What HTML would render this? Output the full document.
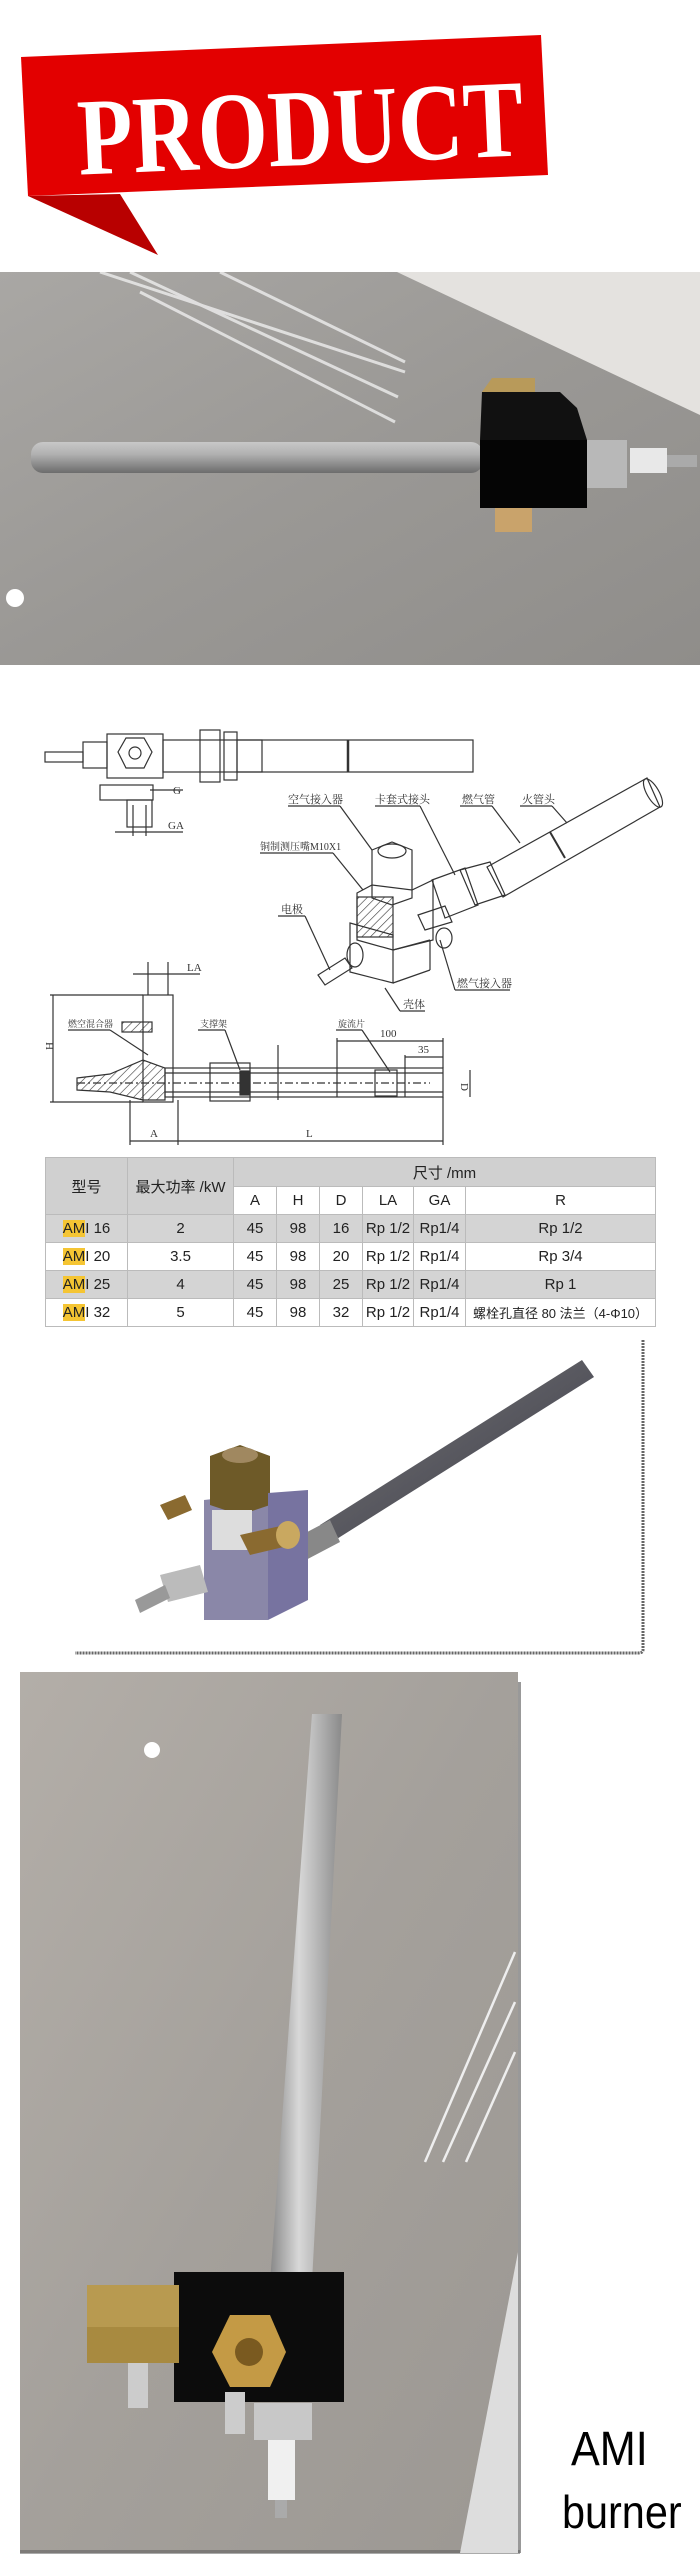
<!DOCTYPE html>
<html><head><meta charset="utf-8"><style>
html,body{margin:0;padding:0;background:#fff;}
body{width:700px;height:2566px;position:relative;overflow:hidden;font-family:"Liberation Sans","Noto Sans CJK SC",sans-serif;}
.abs{position:absolute;}
table{border-collapse:collapse;position:absolute;left:45px;top:1157px;width:611px;font-size:15px;color:#222;}
td{border:1px solid #bbb;text-align:center;padding:0;height:27px;}
.g td{background:#d4d4d4;}
.h td{background:#d0d0d0;}
.y{background:#f5c533;}
</style></head><body>

<svg class="abs" style="left:0;top:0" width="700" height="270">
<polygon points="28,196 120,194 158,255" fill="#b80000"/>
<polygon points="21,57 541,35 548,175 28,196" fill="#e30000"/>
<text x="300" y="165" text-anchor="middle" font-family="Liberation Serif,serif" font-weight="bold" font-size="110" fill="#fff" transform="rotate(-2.5 300 120) translate(54 0) scale(0.82 1)">PRODUCT</text>
</svg>

<svg class="abs" style="left:0;top:272px" width="700" height="393">
<defs><linearGradient id="mar" x1="0" y1="0" x2="1" y2="1"><stop offset="0" stop-color="#a9a7a4"/><stop offset="0.5" stop-color="#9a9895"/><stop offset="1" stop-color="#8f8d8a"/></linearGradient>
<linearGradient id="tb" x1="0" y1="0" x2="0" y2="1"><stop offset="0" stop-color="#c8c8c8"/><stop offset="0.4" stop-color="#b0b0b0"/><stop offset="1" stop-color="#6c6c6c"/></linearGradient></defs>
<rect width="700" height="393" fill="url(#mar)"/>
<polygon points="397,0 700,0 700,143" fill="#e4e2df"/>
<g stroke="#eee" stroke-width="3" opacity="0.8"><line x1="100" y1="0" x2="405" y2="100"/><line x1="130" y1="0" x2="398" y2="125"/><line x1="140" y1="20" x2="395" y2="150"/><line x1="220" y1="0" x2="405" y2="90"/></g>
<circle cx="15" cy="326" r="9" fill="#fff"/>
<rect x="31" y="170" width="452" height="31" rx="12" fill="url(#tb)"/>
<polygon points="492,106 535,106 535,120 482,120" fill="#b89a5a"/>
<rect x="495" y="236" width="37" height="24" fill="#c9a36b"/>
<polygon points="482,120 560,120 577,136 587,168 480,168" fill="#111"/>
<rect x="480" y="168" width="107" height="68" fill="#050505"/>
<rect x="587" y="168" width="40" height="48" fill="#b8b8b8"/>
<rect x="630" y="176" width="37" height="25" fill="#e8e8e8"/>
<rect x="667" y="183" width="30" height="12" fill="#aaa"/>
</svg>

<svg class="abs" style="left:0;top:0" width="700" height="1150" font-family="Liberation Serif,'Noto Serif CJK SC',serif" font-size="11" fill="#333">
<g stroke="#333" stroke-width="1.2" fill="none">
<!-- top view -->
<rect x="107" y="734" width="56" height="44"/>
<rect x="163" y="740" width="310" height="32"/>
<rect x="200" y="730" width="20" height="52"/>
<rect x="224" y="732" width="13" height="48"/>
<rect x="237" y="740" width="25" height="32"/>
<line x1="348" y1="740" x2="348" y2="772" stroke-width="2.5"/>
<rect x="45" y="752" width="38" height="10"/>
<rect x="83" y="742" width="24" height="26"/>
<polygon points="126,738 144,738 152,752 144,768 126,768 118,752"/>
<circle cx="135" cy="753" r="6"/>
<rect x="100" y="785" width="53" height="15"/>
<rect x="127" y="800" width="25" height="27"/>
<line x1="150" y1="790" x2="183" y2="790"/>
<line x1="115" y1="832" x2="183" y2="832"/>
<line x1="133" y1="805" x2="133" y2="836"/><line x1="146" y1="805" x2="146" y2="836"/>
<!-- 3D -->
<polygon points="487,867 647,778 660,807 503,897"/>
<ellipse cx="653" cy="793" rx="6" ry="16" transform="rotate(-30 653 793)"/>
<line x1="550" y1="832" x2="565" y2="858" stroke-width="2"/>
<polygon points="460,870 490,862 505,895 475,905"/>
<polygon points="432,880 465,868 478,905 445,918"/>
<polygon points="372,850 392,842 412,850 412,898 392,905 372,898"/>
<ellipse cx="392" cy="851" rx="14" ry="7"/>
<polygon points="357,893 372,885 412,890 433,880 433,940 393,950 357,940"/>
<polygon points="350,923 393,935 393,983 350,972"/>
<line x1="393" y1="950" x2="430" y2="940"/><line x1="430" y1="940" x2="430" y2="970"/><line x1="393" y1="983" x2="430" y2="970"/>
<rect x="357" y="897" width="36" height="40" fill="url(#hatch)"/>
<polygon points="318,975 345,958 352,968 325,985"/>
<ellipse cx="355" cy="955" rx="8" ry="12"/>
<polygon points="418,915 445,906 452,922 425,930"/>
<ellipse cx="444" cy="938" rx="8" ry="10"/>
<!-- leaders -->
<line x1="288" y1="806" x2="340" y2="806"/><line x1="340" y1="806" x2="372" y2="850"/>
<line x1="375" y1="806" x2="420" y2="806"/><line x1="420" y1="806" x2="455" y2="875"/>
<line x1="460" y1="806" x2="492" y2="806"/><line x1="492" y1="806" x2="520" y2="843"/>
<line x1="520" y1="806" x2="552" y2="806"/><line x1="552" y1="806" x2="567" y2="823"/>
<line x1="260" y1="853" x2="333" y2="853"/><line x1="333" y1="853" x2="363" y2="890"/>
<line x1="278" y1="916" x2="305" y2="916"/><line x1="305" y1="916" x2="330" y2="970"/>
<line x1="455" y1="990" x2="510" y2="990"/><line x1="455" y1="990" x2="440" y2="940"/>
<line x1="400" y1="1011" x2="425" y2="1011"/><line x1="400" y1="1011" x2="385" y2="988"/>
<!-- section -->
<rect x="143" y="995" width="30" height="107"/>
<rect x="165" y="1068" width="278" height="29"/>
<line x1="165" y1="1073" x2="443" y2="1073"/><line x1="165" y1="1092" x2="443" y2="1092"/>
<line x1="77" y1="1083" x2="430" y2="1083" stroke-dasharray="8 3 2 3"/>
<polygon points="77,1078 110,1074 143,1060 165,1068 165,1100 143,1100 110,1092 77,1090" fill="url(#hatch)"/>
<rect x="122" y="1022" width="30" height="10" fill="url(#hatch)"/>
<rect x="210" y="1063" width="40" height="38"/>
<rect x="240" y="1071" width="10" height="24" fill="#333"/>
<rect x="375" y="1070" width="22" height="26"/>
<line x1="53" y1="995" x2="53" y2="1102"/>
<line x1="50" y1="995" x2="143" y2="995"/><line x1="50" y1="1102" x2="143" y2="1102"/>
<line x1="148" y1="962" x2="148" y2="995"/><line x1="168" y1="962" x2="168" y2="995"/>
<line x1="133" y1="974" x2="200" y2="974"/>
<line x1="130" y1="1100" x2="130" y2="1145"/><line x1="178" y1="1100" x2="178" y2="1145"/><line x1="443" y1="1097" x2="443" y2="1145"/>
<line x1="130" y1="1141" x2="443" y2="1141"/>
<line x1="278" y1="1045" x2="278" y2="1100"/>
<line x1="337" y1="1038" x2="337" y2="1097"/><line x1="337" y1="1041" x2="443" y2="1041"/>
<line x1="405" y1="1055" x2="405" y2="1097"/><line x1="405" y1="1057" x2="443" y2="1057"/>
<line x1="443" y1="1038" x2="443" y2="1068"/>
<line x1="470" y1="1070" x2="470" y2="1097"/>
<line x1="68" y1="1030" x2="110" y2="1030"/><line x1="110" y1="1030" x2="148" y2="1055"/>
<line x1="198" y1="1030" x2="225" y2="1030"/><line x1="225" y1="1030" x2="240" y2="1070"/>
<line x1="336" y1="1030" x2="362" y2="1030"/><line x1="362" y1="1030" x2="390" y2="1072"/>
</g>
<defs><pattern id="hatch" width="6" height="6" patternUnits="userSpaceOnUse" patternTransform="rotate(45)"><line x1="0" y1="0" x2="0" y2="6" stroke="#333" stroke-width="1.2"/></pattern></defs>
<text x="173" y="794">G</text><text x="168" y="829">GA</text>
<text x="288" y="803">空气接入器</text><text x="375" y="803">卡套式接头</text><text x="462" y="803">燃气管</text><text x="522" y="803">火管头</text>
<text x="260" y="850" font-size="10">铜制测压嘴M10X1</text><text x="281" y="913">电极</text>
<text x="457" y="987">燃气接入器</text><text x="403" y="1008">壳体</text>
<text x="187" y="971">LA</text><text x="68" y="1027" font-size="9">燃空混合器</text><text x="200" y="1027" font-size="9">支撑架</text><text x="338" y="1027" font-size="9">旋流片</text>
<text x="380" y="1037">100</text><text x="418" y="1053">35</text>
<text x="150" y="1137">A</text><text x="306" y="1137">L</text>
<text x="49" y="1054" transform="rotate(-90 49 1050)">H</text>
<text x="465" y="1087" transform="rotate(90 465 1083)">D</text>
</svg>

<table>
<tr class="h"><td rowspan="2" style="width:81px">型号</td><td rowspan="2" style="width:105px">最大功率 /kW</td><td colspan="6" style="height:28px">尺寸 /mm</td></tr>
<tr style="background:#fff"><td style="width:42px">A</td><td style="width:42px">H</td><td style="width:42px">D</td><td style="width:50px">LA</td><td style="width:51px">GA</td><td>R</td></tr>
<tr class="g"><td><span class="y">AM</span>I 16</td><td>2</td><td>45</td><td>98</td><td>16</td><td>Rp 1/2</td><td>Rp1/4</td><td>Rp 1/2</td></tr>
<tr><td><span class="y">AM</span>I 20</td><td>3.5</td><td>45</td><td>98</td><td>20</td><td>Rp 1/2</td><td>Rp1/4</td><td>Rp 3/4</td></tr>
<tr class="g"><td><span class="y">AM</span>I 25</td><td>4</td><td>45</td><td>98</td><td>25</td><td>Rp 1/2</td><td>Rp1/4</td><td>Rp 1</td></tr>
<tr><td><span class="y">AM</span>I 32</td><td>5</td><td>45</td><td>98</td><td>32</td><td>Rp 1/2</td><td>Rp1/4</td><td style="font-size:13px">螺栓孔直径 80 法兰（4-Φ10）</td></tr>
</table>

<svg class="abs" style="left:0;top:1330px" width="700" height="340">
<defs><linearGradient id="rod" x1="0" y1="0" x2="1" y2="1"><stop offset="0" stop-color="#777"/><stop offset="1" stop-color="#3a3a48"/></linearGradient></defs>
<path d="M643,10 L643,320 Q643,323 638,323 L75,323" fill="none" stroke="#666" stroke-width="3" stroke-dasharray="2 1"/>
<polygon points="320,195 582,30 594,47 332,212" fill="url(#rod)"/>
<polygon points="292,210 330,190 340,212 302,232" fill="#888"/>
<polygon points="204,170 268,163 268,290 204,290" fill="#8a87a8"/>
<polygon points="210,126 240,115 270,126 270,175 240,185 210,175" fill="#6e5a28"/>
<ellipse cx="240" cy="125" rx="18" ry="8" fill="#a08860"/>
<polygon points="268,163 308,160 308,270 268,290" fill="#7773a0"/>
<rect x="212" y="180" width="40" height="40" fill="#ddd"/>
<polygon points="240,205 285,195 292,215 250,225" fill="#8a6a30"/>
<ellipse cx="288" cy="205" rx="12" ry="14" fill="#c9a860"/>
<polygon points="160,245 200,235 208,262 168,272" fill="#bbb"/>
<polygon points="135,270 165,255 170,268 140,283" fill="#999"/>
<polygon points="160,175 185,165 192,180 168,190" fill="#8a6a30"/>
</svg>

<svg class="abs" style="left:0;top:1672px" width="700" height="894">
<defs><linearGradient id="m2" x1="0" y1="0" x2="1" y2="1"><stop offset="0" stop-color="#b3aea8"/><stop offset="0.5" stop-color="#a4a09b"/><stop offset="1" stop-color="#9c9893"/></linearGradient>
<linearGradient id="t2" x1="0" y1="0" x2="1" y2="0"><stop offset="0" stop-color="#888"/><stop offset="0.4" stop-color="#d8d8d8"/><stop offset="1" stop-color="#8a8a8a"/></linearGradient></defs>
<rect x="20" y="0" width="498" height="881" fill="url(#m2)"/>
<rect x="518" y="10" width="3" height="871" fill="#555" opacity="0.6"/>
<rect x="20" y="878" width="500" height="4" fill="#555" opacity="0.5"/>
<circle cx="152" cy="78" r="8" fill="#fff"/>
<polygon points="312,42 342,42 312,610 270,610" fill="url(#t2)"/>
<g stroke="#eee" stroke-width="2.5"><line x1="515" y1="280" x2="425" y2="490"/><line x1="515" y1="330" x2="443" y2="490"/><line x1="515" y1="380" x2="466" y2="490"/></g>
<polygon points="518,580 518,881 460,881" fill="#ddd"/>
<rect x="174" y="600" width="170" height="130" fill="#0c0c0c"/>
<rect x="87" y="613" width="92" height="78" fill="#b89a50"/>
<rect x="87" y="655" width="92" height="36" fill="#a88a40"/>
<rect x="128" y="691" width="20" height="45" fill="#ccc"/>
<rect x="225" y="720" width="20" height="42" fill="#ccc"/>
<polygon points="230,643 270,643 286,680 270,715 230,715 212,680" fill="#c49a45"/>
<circle cx="249" cy="680" r="14" fill="#7a5a20"/>
<rect x="254" y="731" width="58" height="37" fill="#c8c8c8"/>
<rect x="268" y="768" width="27" height="60" fill="#f0f0f0"/>
<rect x="275" y="828" width="12" height="18" fill="#aaa"/>
<text x="571" y="793" font-size="48" fill="#000" transform="translate(571 0) scale(0.9 1) translate(-571 0)">AMI</text>
<text x="562" y="856" font-size="46" fill="#000" transform="translate(562 0) scale(0.9 1) translate(-562 0)">burner</text>
</svg>
</body></html>
